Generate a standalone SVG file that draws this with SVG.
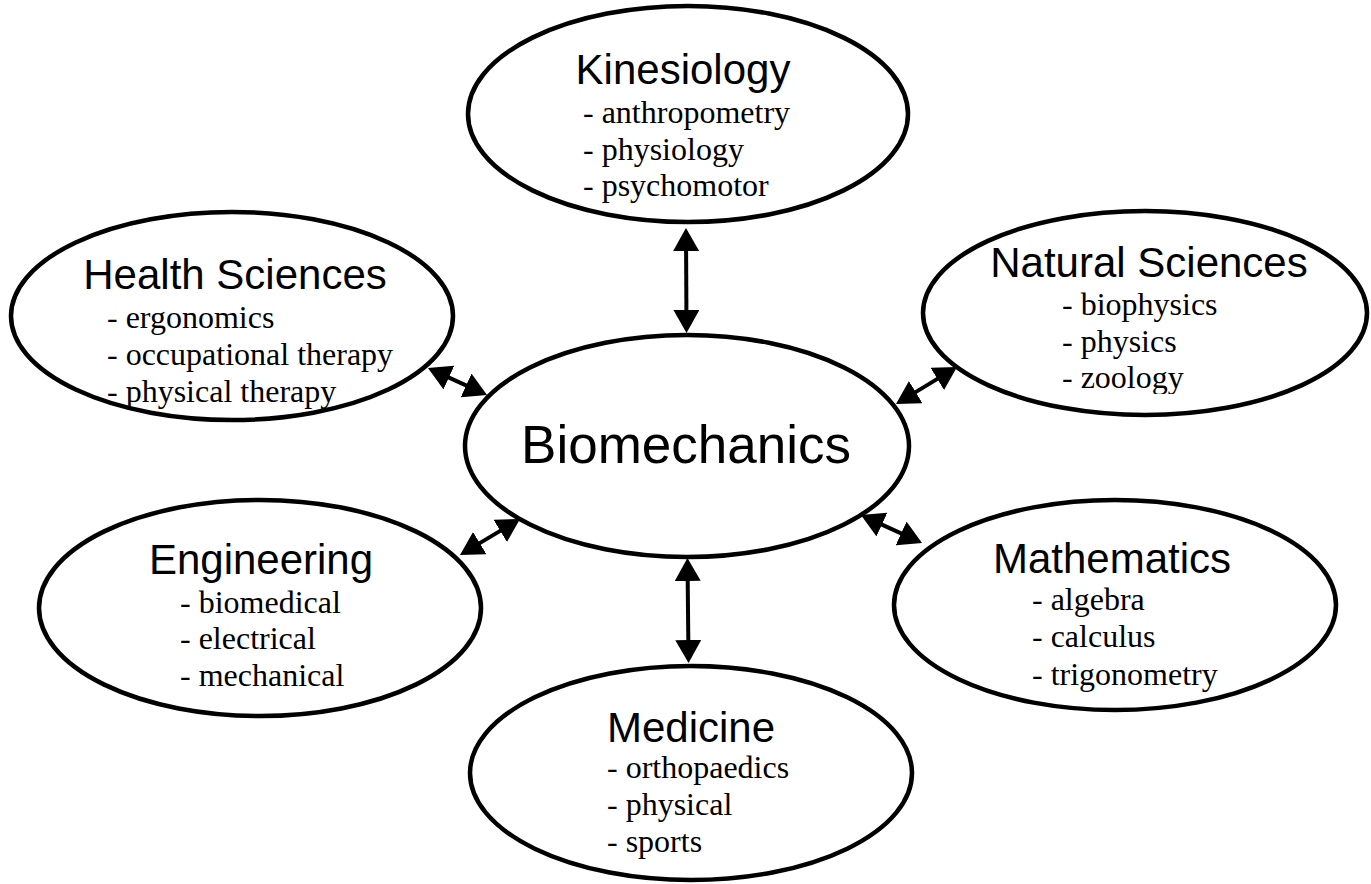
<svg xmlns="http://www.w3.org/2000/svg" width="1371" height="884" viewBox="0 0 1371 884">
<style>
.node ellipse{fill:#fff;stroke:#000;stroke-width:4.5}
.h{font-family:"Liberation Sans",Arial,sans-serif;font-size:42px;fill:#000;text-anchor:middle}
.big{font-family:"Liberation Sans",Arial,sans-serif;font-size:53px;fill:#000;text-anchor:middle}
.s{font-family:"Liberation Serif","Times New Roman",serif;font-size:32px;fill:#000}
.conn line{stroke:#000;stroke-width:4;marker-start:url(#ah);marker-end:url(#ah)}
</style>
<defs>
<marker id="ah" markerUnits="userSpaceOnUse" markerWidth="24" markerHeight="26" refX="18" refY="13" orient="auto-start-reverse" viewBox="0 0 24 26">
<path d="M0,0 L23,13 L0,26 Z" fill="#000"/>
</marker>
<clipPath id="clipNS"><rect x="900" y="200" width="471" height="194"/></clipPath>
</defs>
<rect width="1371" height="884" fill="#fff"/>
<g id="kinesiology" class="node">
<ellipse cx="688" cy="114" rx="220" ry="108"/>
<text class="h" x="683" y="84">Kinesiology</text>
<text class="s" x="583" y="123">- anthropometry</text>
<text class="s" x="583" y="160">- physiology</text>
<text class="s" x="583" y="196">- psychomotor</text>
</g>
<g id="health-sciences" class="node">
<ellipse cx="232" cy="316" rx="221" ry="104"/>
<text class="h" x="235" y="289">Health Sciences</text>
<text class="s" x="107" y="328">- ergonomics</text>
<text class="s" x="107" y="365">- occupational therapy</text>
<text class="s" x="107" y="402">- physical therapy</text>
</g>
<g id="natural-sciences" class="node">
<ellipse cx="1145" cy="313" rx="222" ry="102"/>
<text class="h" x="1149" y="277">Natural Sciences</text>
<text class="s" x="1062" y="315">- biophysics</text>
<text class="s" x="1062" y="352">- physics</text>
<text class="s" x="1062" y="388" clip-path="url(#clipNS)">- zoology</text>
</g>
<g id="biomechanics" class="node">
<ellipse cx="687" cy="446" rx="222" ry="111"/>
<text class="big" x="686" y="463">Biomechanics</text>
</g>
<g id="engineering" class="node">
<ellipse cx="260" cy="608" rx="221" ry="108"/>
<text class="h" x="261" y="574">Engineering</text>
<text class="s" x="180" y="613">- biomedical</text>
<text class="s" x="180" y="649">- electrical</text>
<text class="s" x="180" y="686">- mechanical</text>
</g>
<g id="mathematics" class="node">
<ellipse cx="1115" cy="605" rx="221" ry="105"/>
<text class="h" x="1112" y="573">Mathematics</text>
<text class="s" x="1032" y="610">- algebra</text>
<text class="s" x="1032" y="647">- calculus</text>
<text class="s" x="1032" y="685">- trigonometry</text>
</g>
<g id="medicine" class="node">
<ellipse cx="691" cy="773" rx="221" ry="107"/>
<text class="h" x="691" y="742">Medicine</text>
<text class="s" x="607" y="778">- orthopaedics</text>
<text class="s" x="607" y="815">- physical</text>
<text class="s" x="607" y="852">- sports</text>
</g>
<g id="connectors" class="conn">
<line x1="686" y1="233" x2="686.5" y2="328"/>
<line x1="687.5" y1="563" x2="688.5" y2="658"/>
<line x1="432.5" y1="370.1" x2="482.5" y2="392.9"/>
<line x1="952.7" y1="369.6" x2="900.3" y2="401.4"/>
<line x1="464.3" y1="552.4" x2="515.7" y2="521.6"/>
<line x1="865.5" y1="517.1" x2="917.5" y2="540.9"/>
</g>
</svg>
